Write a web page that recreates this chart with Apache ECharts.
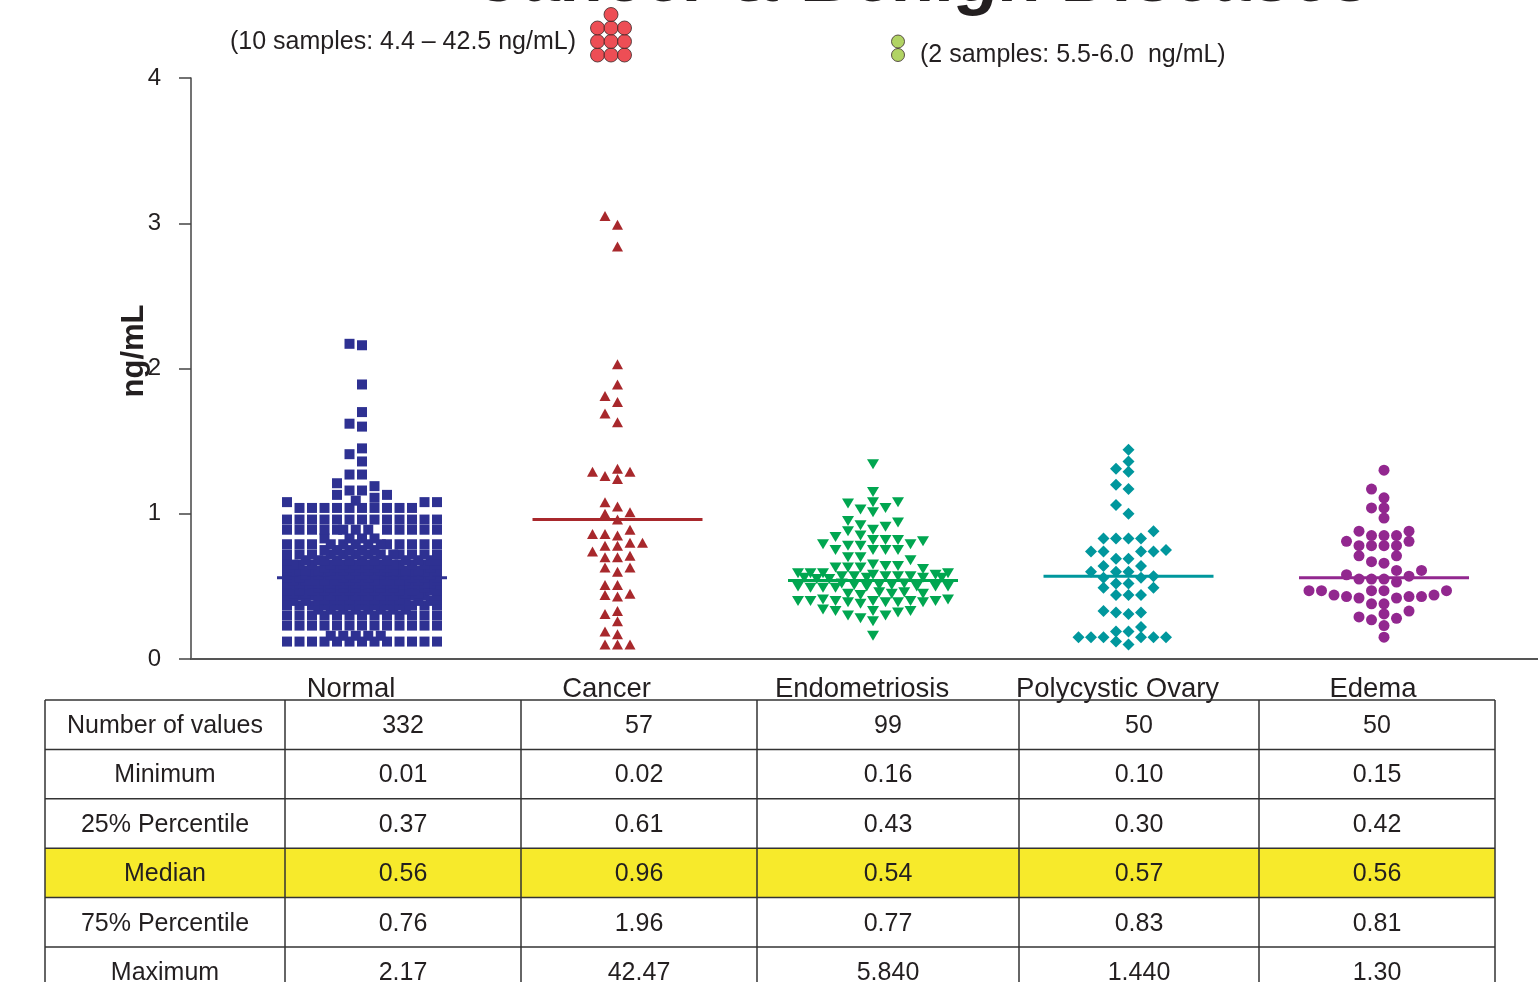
<!DOCTYPE html>
<html><head><meta charset="utf-8">
<script src="https://cdn.jsdelivr.net/npm/echarts@6/dist/echarts.min.js"></script>
<style>html,body{margin:0;padding:0;background:#fff;overflow:hidden}#c{width:1538px;height:982px}</style>
</head><body><div id="c"></div>
<script>
// ---------------- DATA ----------------
const categories = ['Normal', 'Cancer', 'Endometriosis', 'Polycystic Ovary', 'Edema'];
const yTicks = [0, 1, 2, 3, 4];
// Normal (332 values) read as [value, number of points at that level]
const normalLevels = [
  [0.12,13],[0.16,5],[0.23,13],[0.30,13],[0.34,8],[0.37,13],[0.40,13],[0.41,8],[0.44,13],[0.45,4],
  [0.47,13],[0.49,8],[0.51,13],[0.52,13],[0.54,13],[0.56,8],[0.58,13],[0.60,8],[0.61,13],[0.63,8],
  [0.65,13],[0.68,13],[0.72,13],[0.75,5],[0.79,13],[0.83,4],[0.89,13],[0.96,13],
  [1.04,10],[1.08,3],
  [1.09,1],[1.11,1],[1.13,2],[1.16,2],[1.19,1],[1.21,1],[1.27,2],[1.36,1],[1.41,1],[1.45,1],
  [1.60,1],[1.62,1],[1.70,1],[1.89,1],[2.16,1],[2.17,1]
];
const cancerValues = [3.05,2.99,2.84,2.03,1.89,1.81,1.77,1.69,1.63,1.31,1.29,1.29,1.26,1.24,1.08,1.05,1.01,1.00,0.96,
  0.89,0.86,0.86,0.85,0.80,0.80,0.78,0.78,0.74,0.71,0.70,0.70,0.63,0.63,0.60,0.51,0.51,0.45,0.44,0.43,
  0.33,0.31,0.26,0.19,0.17,0.10,0.10,0.10];
const endoValues = [1.34,1.15,1.08,1.08,1.07,1.04,1.03,1.01,0.95,0.94,0.92,0.91,0.89,0.88,0.85,0.84,0.82,0.82,0.82,0.81,
  0.79,0.79,0.78,0.78,0.75,0.75,0.75,0.75,0.70,0.70,0.68,0.65,0.64,0.64,0.63,0.63,0.63,0.62,
  0.59,0.59,0.59,0.59,0.58,0.58,0.57,0.57,0.57,0.57,0.57,0.56,0.56,0.56,0.56,0.55,0.55,
  0.52,0.52,0.51,0.51,0.51,0.50,0.50,0.50,0.50,0.50,0.49,0.49,0.49,
  0.46,0.46,0.45,0.45,0.45,0.44,
  0.41,0.41,0.40,0.40,0.40,0.40,0.40,0.40,0.39,0.39,0.39,0.39,0.38,
  0.34,0.33,0.33,0.33,0.32,0.30,0.30,0.28,0.26,0.16];
const polyValues = [1.44,1.36,1.31,1.29,1.20,1.17,1.06,1.00,0.88,0.83,0.83,0.83,0.83,0.75,0.74,0.74,0.74,0.74,
  0.69,0.69,0.64,0.64,0.60,0.60,0.60,0.57,0.56,0.56,0.52,0.52,0.49,0.49,0.44,0.44,0.44,
  0.33,0.32,0.32,0.31,0.22,0.19,0.19,0.15,0.15,0.15,0.15,0.15,0.15,0.12,0.10];
const edemaValues = [1.30,1.17,1.11,1.04,1.04,0.97,0.88,0.88,0.85,0.85,0.85,0.81,0.81,0.78,0.78,0.78,0.78,
  0.71,0.71,0.67,0.66,0.61,0.61,0.58,0.57,0.55,0.55,0.55,0.53,0.47,0.47,0.47,0.47,0.47,
  0.44,0.43,0.43,0.42,0.42,0.43,0.44,0.38,0.38,0.33,0.31,0.29,0.27,0.28,0.23,0.15];
const medians = [0.56, 0.96, 0.54, 0.57, 0.56];
// off-scale samples shown as stacked dots above the plot
const offscaleCounts = [0, 10, 2, 0, 0];
const offscaleNotes = ['', '(10 samples: 4.4 \u2013 42.5 ng/mL)', '(2 samples: 5.5-6.0  ng/mL)', '', ''];
// summary table
const tableRowLabels = ['Number of values', 'Minimum', '25% Percentile', 'Median', '75% Percentile', 'Maximum'];
const tableValues = [
  ['332', '57', '99', '50', '50'],
  ['0.01', '0.02', '0.16', '0.10', '0.15'],
  ['0.37', '0.61', '0.43', '0.30', '0.42'],
  ['0.56', '0.96', '0.54', '0.57', '0.56'],
  ['0.76', '1.96', '0.77', '0.83', '0.81'],
  ['2.17', '42.47', '5.840', '1.440', '1.30']
];

// ---------------- LAYOUT / STYLE ----------------
const W = 1538, H = 982;
const G = { left: 191, right: 0, top: 78, bottom: 323 };
const XMIN = 0.3307, XMAX = 5.6027;
const plotW = W - G.left - G.right, plotH = H - G.top - G.bottom;
const pxPerX = plotW / (XMAX - XMIN), pxPerY = plotH / (yTicks[yTicks.length - 1] - yTicks[0]);
const colors = ['#2E3192', '#A8282C', '#00A650', '#00979D', '#92278F'];
const symbols = ['rect', 'triangle', 'triangle', 'diamond', 'circle'];
const symSizes = [10, [11, 10], [12, 10], 12, 11];
const symRot = [0, 0, 180, 0, 0];
const COL_PX = 12.5;

function expandLevels(levels) {
  const out = [];
  levels.forEach(([v, n]) => { for (let i = 0; i < n; i++) out.push(v); });
  return out;
}
const groups = [expandLevels(normalLevels), cancerValues, endoValues, polyValues, edemaValues];

// beeswarm placement: nearest free column, else least-overlapping (incl. half columns)
function swarm(vals, center, wPx, hPx, maxHalf) {
  const sorted = vals.slice().sort((a, b) => a - b);
  const cands = [0];
  for (let i = 1; i <= maxHalf; i++) cands.push(-i, i);
  for (let i = 0; i < maxHalf; i++) cands.push(-(i + 0.5), i + 0.5);
  const placed = [];
  const out = [];
  for (const v of sorted) {
    let best = null, bestS = Infinity;
    for (const k of cands) {
      let s = 0;
      for (const p of placed) {
        const ox = 1 - Math.abs(p.k - k) * COL_PX / wPx;
        const oy = 1 - Math.abs(p.v - v) * pxPerY / hPx;
        if (ox > 0 && oy > 0) s += ox * oy;
      }
      if (s === 0) { best = k; bestS = 0; break; }
      if (s < bestS - 1e-9) { bestS = s; best = k; }
    }
    placed.push({ v, k: best });
    out.push([center + best * COL_PX / pxPerX, v]);
  }
  return out;
}

const series = [];
const HALF_LINE = 85 / pxPerX;
groups.forEach((vals, i) => {
  const c = i + 1;
  series.push({
    type: 'line', xAxisIndex: 0, yAxisIndex: 0, z: 2,
    data: [[c - HALF_LINE, medians[i]], [c + HALF_LINE, medians[i]]],
    symbol: 'none', lineStyle: { color: colors[i], width: 3 }, silent: true, animation: false
  });
  series.push({
    type: 'scatter', xAxisIndex: 0, yAxisIndex: 0, z: 3,
    data: swarm(vals, c, 10, 9, 6),
    symbol: symbols[i], symbolSize: symSizes[i], symbolRotate: symRot[i],
    itemStyle: { color: colors[i], opacity: 1 }, animation: false, silent: true
  });
});

// off-scale dots (second hidden grid at the top)
const offColors = ['#E8222A', '#E8222A', '#9DC83D', '#E8222A', '#E8222A'];
const offPerRow = [3, 3, 1, 3, 3];
const offDx = [0, -6.5, 25, 0, 0];
offscaleCounts.forEach((n, i) => {
  if (!n) return;
  const pts = [];
  const per = offPerRow[i];
  for (let k = 0; k < n; k++) {
    const row = Math.floor(k / per);
    const inRow = Math.min(per, n - row * per);
    const col = (k % per) - (inRow - 1) / 2;
    pts.push([i + 1 + (offDx[i] + col * 13.5) / pxPerX, row]);
  }
  series.push({
    type: 'scatter', xAxisIndex: 1, yAxisIndex: 1, data: pts, symbol: 'circle',
    symbolSize: i === 2 ? 13 : 14,
    itemStyle: { color: offColors[i], borderColor: '#3a2a2a', borderWidth: 1 }, animation: false, silent: true
  });
});

// ---------------- GRAPHICS: title, notes, axis name, table ----------------
const FONT = '"Liberation Sans", Arial, sans-serif';
const graphic = [];
graphic.push({
  type: 'text', x: 922, y: -19, z: 10,
  style: { text: 'Cancer & Benign Diseases', font: 'italic bold 71px ' + FONT, fill: '#231F20', align: 'center', verticalAlign: 'middle' }
});
graphic.push({
  type: 'text', x: 134, y: 351, rotation: Math.PI / 2, z: 10,
  style: { text: 'ng/mL', font: 'bold 31px ' + FONT, fill: '#231F20', align: 'center', verticalAlign: 'middle' }
});
const noteAnchors = [null, { x: 230, y: 42, align: 'left' }, { x: 920, y: 55, align: 'left' }, null, null];
offscaleNotes.forEach((t, i) => {
  if (!t) return;
  const a = noteAnchors[i];
  graphic.push({ type: 'text', x: a.x, y: a.y, style: { text: t, font: '25px ' + FONT, fill: '#231F20', align: a.align, verticalAlign: 'middle' } });
});

const colX = [45, 285, 521, 757, 1019, 1259, 1495];
const rowTop = 700, rowH = 49.4;
const medianRow = tableRowLabels.indexOf('Median');
graphic.push({
  type: 'rect', shape: { x: colX[0], y: rowTop + medianRow * rowH, width: colX[6] - colX[0], height: rowH },
  style: { fill: '#F7EA2B' }, z: 1
});
for (let r = 0; r <= tableRowLabels.length; r++) {
  const y = rowTop + r * rowH;
  graphic.push({ type: 'line', shape: { x1: colX[0], y1: y, x2: colX[6], y2: y }, style: { stroke: '#333', lineWidth: 1.5 }, z: 2 });
}
colX.forEach(x => {
  graphic.push({ type: 'line', shape: { x1: x, y1: rowTop, x2: x, y2: rowTop + tableRowLabels.length * rowH }, style: { stroke: '#333', lineWidth: 1.5 }, z: 2 });
});
tableRowLabels.forEach((lab, r) => {
  const cy = rowTop + r * rowH + rowH / 2 + 1.5;
  graphic.push({ type: 'text', x: (colX[0] + colX[1]) / 2, y: cy, z: 3, style: { text: lab, font: '25px ' + FONT, fill: '#231F20', align: 'center', verticalAlign: 'middle' } });
  tableValues[r].forEach((v, c) => {
    graphic.push({ type: 'text', x: (colX[c + 1] + colX[c + 2]) / 2, y: cy, z: 3, style: { text: v, font: '25px ' + FONT, fill: '#231F20', align: 'center', verticalAlign: 'middle' } });
  });
});

// ---------------- CHART ----------------
const chart = echarts.init(document.getElementById('c'), null, { renderer: 'canvas' });
chart.setOption({
  backgroundColor: '#fff',
  animation: false,
  grid: [
    { left: G.left, right: G.right, top: G.top, bottom: G.bottom, containLabel: false },
    { left: G.left, right: G.right, top: 1, height: 54, containLabel: false }
  ],
  xAxis: [
    {
      type: 'value', gridIndex: 0, min: XMIN, max: XMAX,
      axisLine: { show: true, onZero: false, lineStyle: { color: '#555', width: 2 } },
      axisTick: { show: false }, splitLine: { show: false },
      axisLabel: {
        show: true, customValues: [1, 2, 3, 4, 5], margin: 16, padding: [0, 22, 0, 0],
        formatter: v => categories[Math.round(v) - 1] || '',
        fontSize: 27.5, color: '#231F20', fontFamily: FONT
      }
    },
    { type: 'value', gridIndex: 1, min: XMIN, max: XMAX, show: false }
  ],
  yAxis: [
    {
      type: 'value', gridIndex: 0, min: yTicks[0], max: yTicks[yTicks.length - 1], interval: 1,
      axisLine: { show: true, lineStyle: { color: '#444', width: 1.5 } },
      axisTick: { show: true, length: 12, inside: false, lineStyle: { color: '#444', width: 1.5 } },
      splitLine: { show: false },
      axisLabel: { margin: 30, fontSize: 24, color: '#231F20', fontFamily: FONT }
    },
    { type: 'value', gridIndex: 1, min: 0, max: 4, show: false }
  ],
  graphic: graphic,
  series: series
});
</script>
</body></html>
